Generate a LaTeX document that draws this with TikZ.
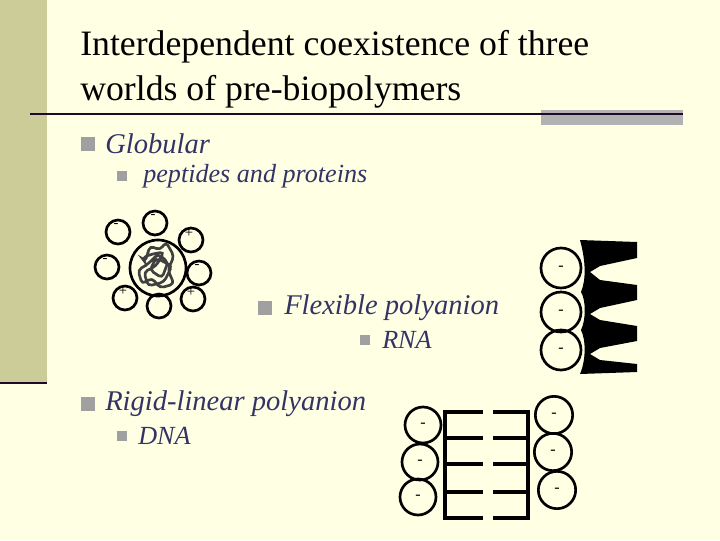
\documentclass[tikz,border=0pt]{standalone}
\usepackage{fontspec}
\setmainfont{Liberation Serif}
\usetikzlibrary{positioning}
\definecolor{PaperColor}{RGB}{255,255,228}
\definecolor{StripColor}{RGB}{204,204,153}
\definecolor{RuleColor}{RGB}{30,10,40}
\definecolor{BarColor}{RGB}{178,178,178}
\definecolor{TextColor}{RGB}{51,51,102}
\definecolor{BulletColor}{RGB}{160,160,160}
\tikzset{
  title/.style={anchor=west, inner sep=0pt, font=\fontsize{26.8}{30}\selectfont},
  item/.style={anchor=west, inner sep=0pt, text=TextColor, font=\fontsize{21.4}{24}\selectfont\itshape},
  subitem/.style={anchor=west, inner sep=0pt, text=TextColor, font=\fontsize{19.6}{22}\selectfont\itshape},
  bullet/.style={fill=BulletColor, minimum size=#1, inner sep=0pt},
  ion/.style={circle, draw, line width=2pt, minimum size=#1, inner sep=0pt},
  sign/.style={inner sep=0pt, font=\fontsize{11}{11}\selectfont},
  rung/.style={line width=3.5pt}
}
\begin{document}
\begin{tikzpicture}[x=0.75pt,y=-0.75pt]
    % background
    \fill[PaperColor] (0,0) rectangle (720,540);
    \useasboundingbox (0,0) rectangle (720,540);
    \fill[StripColor] (0,0) rectangle (47,383);
    \draw[RuleColor, line width=2pt] (0,383) -- (47,383);
    \fill[BarColor] (541,110) rectangle (683,125);
    \draw[RuleColor, line width=2.2pt] (30,114) -- (683,114);

    % title
    \node[title] (title1) at (80,47) {Interdependent coexistence of three};
    \node[title] (title2) at (80,92) {worlds of pre-biopolymers};

    % bullets
    \node[bullet=10pt] (b1) at (88,144) {};
    \node[item] (globular) at (105,144) {Globular};
    \node[bullet=8pt] (b2) at (122,176) {};
    \node[subitem] (peptides) at (143,176) {peptides and proteins};
    \node[bullet=10pt] (b3) at (265,308) {};
    \node[item] (flexible) at (284,308) {Flexible polyanion};
    \node[bullet=8pt] (b4) at (365,340) {};
    \node[subitem] (rna) at (382,340) {RNA};
    \node[bullet=10pt] (b5) at (88,404) {};
    \node[item] (rigid) at (105,404) {Rigid-linear polyanion};
    \node[bullet=8pt] (b6) at (122,436) {};
    \node[subitem] (dna) at (138,436) {DNA};

    % globular protein
    \node[ion=42pt] (core) at (158,268) {};
    \draw[black!75, line width=2pt, rounded corners=3pt]
      (145,262) -- (150,246) -- (160,250) -- (166,242) -- (174,256) -- (168,270)
      -- (174,284) -- (160,288) -- (152,278) -- (142,284) -- (138,270) -- (148,264)
      -- (158,254) -- (168,262) -- (162,278) -- (150,270) -- (156,258) -- (172,266)
      -- (164,282) -- (148,286) -- (144,272) -- (156,266) -- (164,252) -- (152,254)
      -- (142,258) -- cycle;
    \foreach \x/\y in {118/232, 155/223, 191/240, 107/267, 199/273,
                       125/298, 159/306, 193/299}
      \node[ion=18pt] (p\x) at (\x,\y) {};
    \foreach \x/\y/\s in {118/232/-, 155/223/-, 191/240/+, 107/267/-, 199/273/-,
                          125/298/+, 193/299/+}
      \node[sign] at (\x-2,\y-7) {\s};

    % RNA
    \foreach \i/\y in {1/268, 2/312, 3/350}
      \node[ion=30pt] (r\i) at (561,\y) {\fontsize{12}{12}\selectfont -};
    \fill (580,240) -- (637,242) -- (637,258) -- (600,266) -- (590,272)
      -- (600,280) -- (637,285) -- (637,300) -- (600,308) -- (590,314)
      -- (600,320) -- (637,326) -- (637,341) -- (600,348) -- (590,354)
      -- (600,360) -- (637,364) -- (637,372) -- (580,374)
      .. controls (586,360) and (586,340) .. (581,330)
      .. controls (586,320) and (586,300) .. (581,292)
      .. controls (586,280) and (586,262) .. cycle;

    % DNA
    \foreach \i/\x/\y in {1/423/425, 2/420/462, 3/418/497}
      \node[ion=27pt] (dl\i) at (\x,\y) {\fontsize{12}{12}\selectfont -};
    \foreach \i/\x/\y in {1/554/415, 2/553/452, 3/557/490}
      \node[ion=28pt] (dr\i) at (\x,\y) {\fontsize{12}{12}\selectfont -};
    \draw[rung] (445,410) -- (445,520);
    \draw[rung] (528,410) -- (528,520);
    \foreach \y in {412,438,464,492,518} {
      \draw[rung] (443,\y) -- (483,\y);
      \draw[rung] (493,\y) -- (530,\y);
    }
\end{tikzpicture}
\end{document}
